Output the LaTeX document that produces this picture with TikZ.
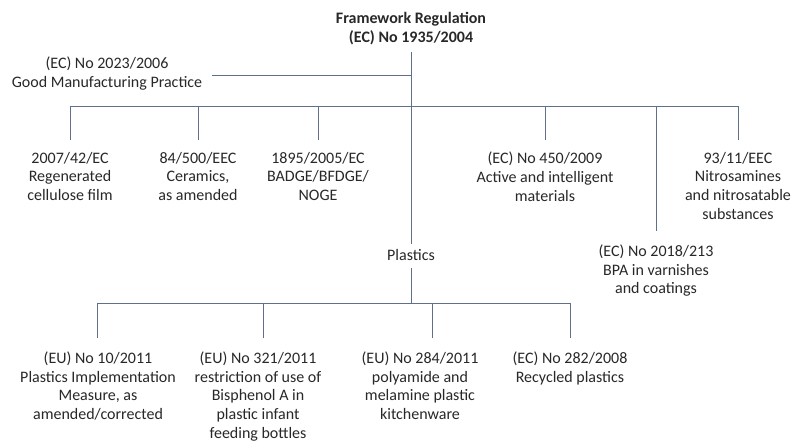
\documentclass[tikz,border=0pt]{standalone}
\usepackage{fontspec}
\setmainfont{Carlito}
\definecolor{linec}{RGB}{96,112,138}
\definecolor{txt}{RGB}{40,40,40}
\begin{document}
\begin{tikzpicture}[x=1pt,y=-1pt,
  lbl/.style={font=\fontsize{16}{18.8}\selectfont, text=txt, align=center,
    inner xsep=1pt, inner ysep=0pt, execute at begin node=\strut},
  leaf/.style={lbl, anchor=north, outer ysep=#1},
  leaf/.default=12pt,
  conn/.style={draw=linec, line width=0.9pt}]
  % page
  \fill[white] (0,0) rectangle (795,446);
  \useasboundingbox (0,0) rectangle (795,446);

  % root and side regulation
  \node[lbl, anchor=north] (fw) at (411,12.5)
    {\textbf{Framework Regulation}\\\textbf{(EC) No 1935/2004}};
  \node[lbl, anchor=north, inner xsep=10pt] (gmp) at (107,56.5)
    {(EC) No 2023/2006\\Good Manufacturing Practice};

  % specific measures
  \node[leaf] (a) at (70,140) {2007/42/EC\\Regenerated\\cellulose film};
  \node[leaf] (b) at (198,140) {84/500/EEC\\Ceramics,\\as amended};
  \node[leaf] (c) at (318,140) {1895/2005/EC\\BADGE/BFDGE/\\NOGE};
  \node[leaf] (d) at (545,140) {(EC) No 450/2009\\Active and intelligent\\materials};
  \node[leaf=13.5pt] (e) at (656,231) {(EC) No 2018/213\\BPA in varnishes\\and coatings};
  \node[leaf] (f) at (738,140) {93/11/EEC\\Nitrosamines\\and nitrosatable\\substances};

  % plastics branch
  \node[lbl, anchor=north, inner ysep=2.5pt] (pl) at (411,244.3) {Plastics};
  \node[leaf=13.5pt] (p1) at (98,338)
    {(EU) No 10/2011\\Plastics Implementation\\Measure, as\\amended/corrected};
  \node[leaf=13.5pt] (p2) at (258,338)
    {(EU) No 321/2011\\restriction of use of\\Bisphenol A in\\plastic infant\\feeding bottles};
  \node[leaf=13.5pt] (p3) at (420,338)
    {(EU) No 284/2011\\polyamide and\\melamine plastic\\kitchenware};
  \node[leaf=13.5pt] (p4) at (570,338) {(EC) No 282/2008\\Recycled plastics};

  % junction levels
  \coordinate (gj) at (411,75);
  \coordinate (bus) at (411,106);
  \coordinate (pbus) at (411,303);

  % trunk
  \draw[conn, shorten <=3pt] (fw.south) -- (pl.north);
  \draw[conn] (gmp.east |- gj) -- (gj);

  % upper bus
  \draw[conn] (a.north) -- (a.north |- bus) -- (f.north |- bus) -- (f.north);
  \foreach \n in {b,c,d,e}
    \draw[conn] (\n.north) -- (\n.north |- bus);

  % plastics bus
  \draw[conn] (pl.south) -- (pl.south |- pbus);
  \draw[conn] ([xshift=-1pt]p1.north) -- ([xshift=-1pt]p1.north |- pbus)
    -- (p4.north |- pbus) -- (p4.north);
  \draw[conn] ([xshift=5pt]p2.north) -- ([xshift=5pt]p2.north |- pbus);
  \draw[conn] ([xshift=12pt]p3.north) -- ([xshift=12pt]p3.north |- pbus);
\end{tikzpicture}
\end{document}
